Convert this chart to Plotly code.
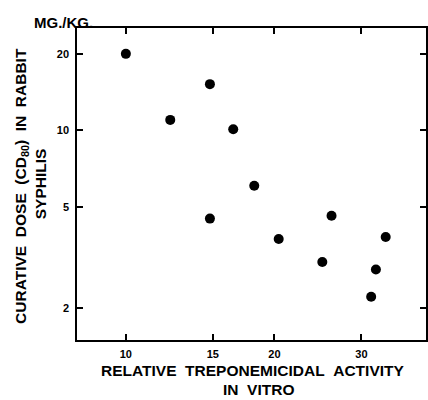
import plotly.graph_objects as go

# Relative treponemicidal activity in vitro vs. curative dose in rabbit syphilis
activity = [10.0, 12.3, 14.8, 16.5, 18.2, 14.8, 26.1, 20.4, 33.6, 25.0, 32.1, 31.4]
dose = [20.0, 11.0, 15.2, 10.1, 6.06, 4.5, 4.62, 3.74, 3.81, 3.04, 2.84, 2.22]

x_ticks = [10, 15, 20, 30]
y_ticks = [2, 5, 10, 20]

FONT = "Liberation Sans, Arial, sans-serif"
SP = "\u00a0\u00a0"

fig = go.Figure()

fig.add_trace(go.Scatter(
    x=activity,
    y=dose,
    mode="markers",
    marker=dict(color="black", size=10),
    hoverinfo="x+y",
))

axis_style = dict(
    type="log",
    showline=True, linecolor="black", linewidth=1.5,
    mirror="ticks",
    ticks="inside", ticklen=6, tickwidth=1.5, tickcolor="black",
    showgrid=False, zeroline=False,
    tickfont=dict(family=FONT, size=11, color="black", weight="bold"),
)

fig.update_layout(
    width=428, height=400,
    margin=dict(l=77, r=0, t=28, b=60),
    plot_bgcolor="white", paper_bgcolor="white",
    showlegend=False,
    xaxis=dict(axis_style, range=[0.901, 1.608], tickvals=x_ticks,
               ticktext=[str(v) for v in x_ticks], ticklabelstandoff=3),
    yaxis=dict(axis_style, range=[0.176, 1.4026], tickvals=y_ticks,
               ticktext=[str(v) for v in y_ticks], ticklabelstandoff=4),
)

title_font = dict(family=FONT, size=15.5, color="black", weight="bold")
center = dict(xref="paper", yref="paper", xanchor="center", yanchor="middle",
              showarrow=False, borderpad=0)

# Titulky osí ako anotácie (dva riadky)
fig.add_annotation(center, x=-0.1595, y=0.495,
                   text="CURATIVE" + SP + "DOSE" + SP + "(CD<sub>80</sub>)" + SP + "IN" + SP + "RABBIT",
                   textangle=-90, font=title_font)
fig.add_annotation(center, x=-0.1054, y=0.5,
                   text="SYPHILIS", textangle=-90, font=title_font)
fig.add_annotation(center, x=0.504, y=-0.0993,
                   text="RELATIVE" + SP + "TREPONEMICIDAL" + SP + "ACTIVITY",
                   font=title_font)
fig.add_annotation(center, x=0.52, y=-0.16,
                   text="IN" + SP + "VITRO", font=title_font)
fig.add_annotation(center, x=-0.04, y=1.019,
                   text="MG./KG.",
                   font=dict(family=FONT, size=15, color="black", weight="bold"))

# bez okraja stránky, aby graf začínal v ľavom hornom rohu
fig.write_html("out.html", config={"displayModeBar": False},
               post_script="document.body.style.margin='0px';")
